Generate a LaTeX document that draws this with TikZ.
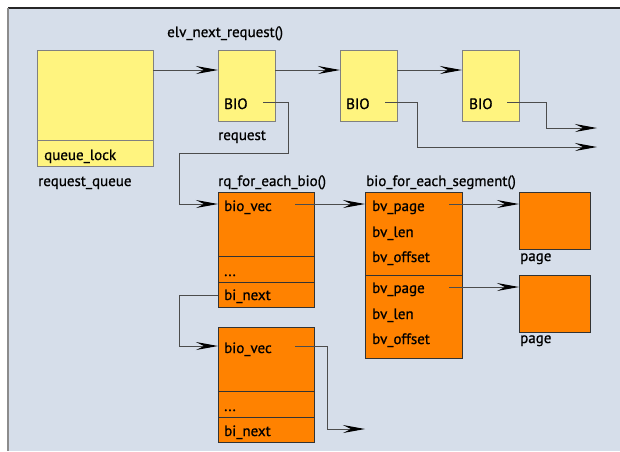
\documentclass[tikz,border=0pt]{standalone}
\usepackage{fontspec}
\setmainfont[FakeBold=0.8]{PT Sans}
\usetikzlibrary{arrows.meta}
\definecolor{bg}{HTML}{D6DEEA}
\definecolor{ylw}{HTML}{FFF47F}
\definecolor{org}{HTML}{FF8200}
\tikzset{
 box/.style={draw, inner sep=0pt, outer sep=0pt, anchor=north west, line width=1pt},
 ybox/.style={box, fill=ylw, draw=black!50},
 obox/.style={box, fill=org, draw=black!80},
 lbl/.style={anchor=base west, inner sep=0pt, font=\fontsize{15}{17}\selectfont},
 conn/.style={draw=black!70, line width=1pt, -{Stealth[length=22pt,width=8pt,inset=8pt,color=black]}},
 wire/.style={draw=black!70, line width=1pt},
 divl/.style={draw=black!80, line width=1pt},
}
\begin{document}
\begin{tikzpicture}[x=1pt,y=-1pt]
\useasboundingbox (0,0) rectangle (620,451);
\fill[bg] (8,8) rectangle (620,451);
\draw[black!85, line width=1.5pt] (8,8) -- (620,8);
\draw[black!45, line width=2pt] (8,8) -- (8,451);

% yellow boxes
\node[ybox, minimum width=116pt, minimum height=116pt] (rq) at (37,50) {};
\draw[black!50, line width=1pt] (37,140) -- (153,140);
\node[ybox, minimum width=57pt, minimum height=71pt] (req) at (218,50) {};
\node[ybox, minimum width=57pt, minimum height=71pt] (b2) at (340,50) {};
\node[ybox, minimum width=57pt, minimum height=71pt] (b3) at (462,50) {};

% orange boxes
\node[obox, minimum width=96pt, minimum height=115pt] (bio1) at (218,192) {};
\draw[divl] (218,256) -- (314,256);
\draw[divl] (218,282) -- (314,282);
\node[obox, minimum width=96pt, minimum height=115pt] (bio2) at (218,327) {};
\draw[divl] (218,391) -- (314,391);
\draw[divl] (218,417) -- (314,417);
\node[obox, minimum width=97pt, minimum height=166pt] (seg) at (365,192) {};
\draw[divl] (365,275) -- (462,275);
\node[obox, minimum width=71pt, minimum height=57pt] (pg1) at (519,192) {};
\node[obox, minimum width=71pt, minimum height=57pt] (pg2) at (519,275) {};

% labels
\node[lbl] (t1) at (167,37) {elv\_next\_request()};
\node[lbl] (t2) at (224,109) {BIO};
\node[lbl] (t3) at (346,109) {BIO};
\node[lbl] (t4) at (469,109) {BIO};
\node[lbl] (t5) at (218,140) {request};
\node[lbl] (t6) at (44,160) {queue\_lock};
\node[lbl] (t7) at (38,186) {request\_queue};
\node[lbl] (t8) at (218,186) {rq\_for\_each\_bio()};
\node[lbl] (t9) at (366,186) {bio\_for\_each\_segment()};
\node[lbl] (t10) at (224,211) {bio\_vec};
\node[lbl] (t11) at (224,276) {...};
\node[lbl] (t12) at (224,300) {bi\_next};
\node[lbl] (t13) at (224,353) {bio\_vec};
\node[lbl] (t14) at (224,411) {...};
\node[lbl] (t15) at (224,436) {bi\_next};
\node[lbl] (t16) at (372,211) {bv\_page};
\node[lbl] (t17) at (372,237) {bv\_len};
\node[lbl] (t18) at (372,262) {bv\_offset};
\node[lbl] (t19) at (372,293) {bv\_page};
\node[lbl] (t20) at (372,319) {bv\_len};
\node[lbl] (t21) at (372,344) {bv\_offset};
\node[lbl] (t22) at (520,261) {page};
\node[lbl] (t23) at (520,343) {page};

% pointer origins and free ends
\coordinate (p1) at (263,102);
\coordinate (p2) at (385,102);
\coordinate (p3) at (507,102);
\coordinate (p4) at (295,204);
\coordinate (p5) at (449,204);
\coordinate (p6) at (449,287);
\coordinate (p7) at (295,346);
\coordinate (e2) at (597,147);
\coordinate (e3) at (597,128);
\coordinate (e7) at (365,429);

% connectors
\draw[conn] ([yshift=-20pt]rq.north east) -- ([yshift=-20pt]req.north west);
\draw[conn] ([yshift=-20pt]req.north east) -- ([yshift=-20pt]b2.north west);
\draw[conn] ([yshift=-20pt]b2.north east) -- ([yshift=-20pt]b3.north west);
\draw[conn] (p1) -- (288,102) -- (288,153) -- (179,153) -- (179,204) -- ([yshift=-12pt]bio1.north west);
\draw[conn] (p2) -- (417,102) -- (417,147) -- (e2);
\draw[conn] (p3) -- (546,102) -- (546,128) -- (e3);
\draw[conn] (p4) -- ([yshift=-12pt]seg.north west);
\draw[conn] (p5) -- ([yshift=-12pt]pg1.north west);
\draw[conn] (p6) -- ([yshift=-12pt]pg2.north west);
\draw[conn] (218,295) -- (179,295) -- (179,346) -- ([yshift=-19pt]bio2.north west);
\draw[conn] (p7) -- (327,346) -- (327,429) -- (e7);
\end{tikzpicture}
\end{document}
